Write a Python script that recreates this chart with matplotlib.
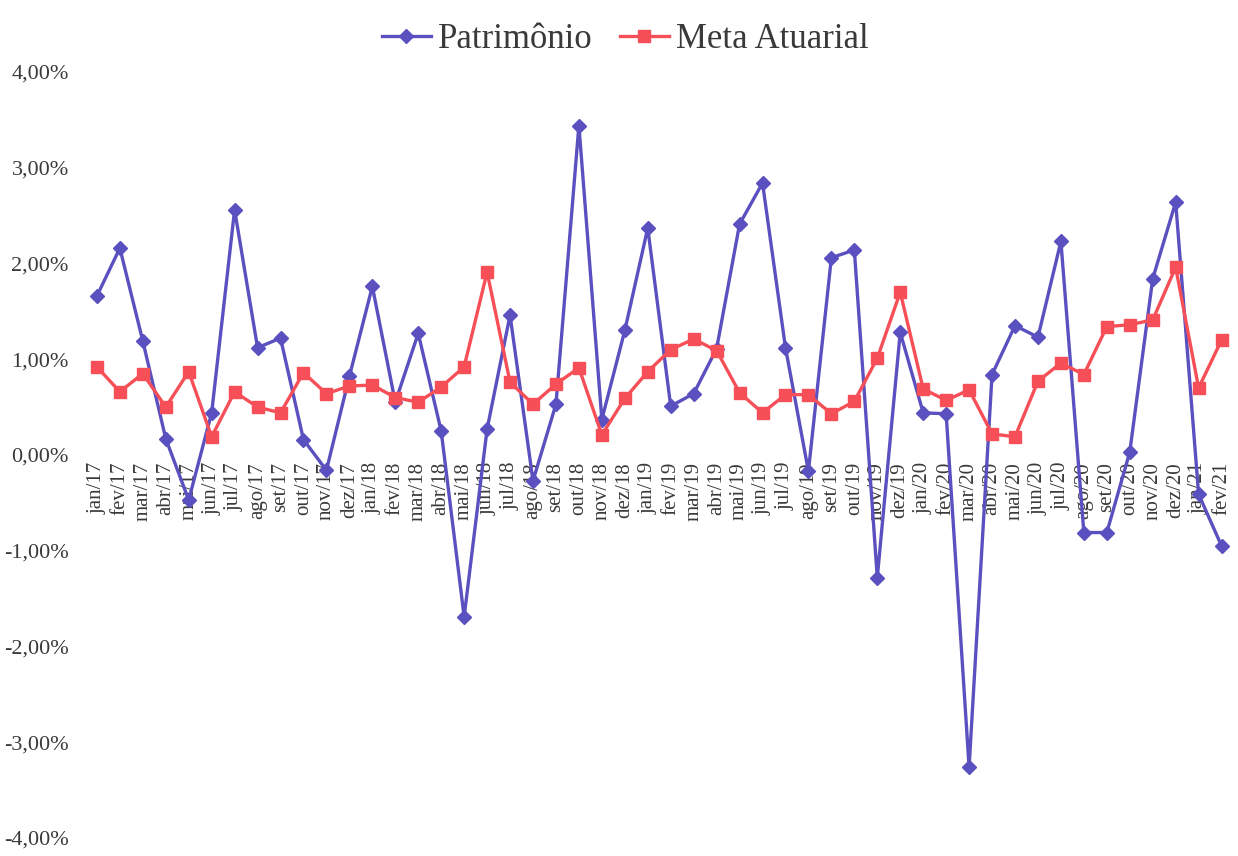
import matplotlib
matplotlib.use("Agg")
import matplotlib.pyplot as plt
from matplotlib.ticker import FuncFormatter

months = ["jan/17","fev/17","mar/17","abr/17","mai/17","jun/17","jul/17","ago/17","set/17","out/17","nov/17","dez/17",
          "jan/18","fev/18","mar/18","abr/18","mai/18","jun/18","jul/18","ago/18","set/18","out/18","nov/18","dez/18",
          "jan/19","fev/19","mar/19","abr/19","mai/19","jun/19","jul/19","ago/19","set/19","out/19","nov/19","dez/19",
          "jan/20","fev/20","mar/20","abr/20","mai/20","jun/20","jul/20","ago/20","set/20","out/20","nov/20","dez/20",
          "jan/21","fev/21"]

patrimonio = [1.66, 2.16, 1.19, 0.17, -0.47, 0.44, 2.56, 1.12, 1.22, 0.16, -0.16, 0.82,
              1.76, 0.55, 1.27, 0.25, -1.69, 0.27, 1.46, -0.27, 0.53, 3.44, 0.37, 1.30,
              2.37, 0.51, 0.64, 1.11, 2.41, 2.84, 1.12, -0.17, 2.06, 2.14, -1.28, 1.28,
              0.44, 0.43, -3.26, 0.84, 1.35, 1.23, 2.23, -0.81, -0.81, 0.03, 1.84, 2.64,
              -0.41, -0.95]

meta = [0.92, 0.66, 0.85, 0.50, 0.87, 0.19, 0.66, 0.50, 0.44, 0.86, 0.64, 0.72,
        0.73, 0.60, 0.55, 0.71, 0.92, 1.91, 0.76, 0.53, 0.74, 0.91, 0.21, 0.59,
        0.87, 1.10, 1.21, 1.09, 0.65, 0.44, 0.63, 0.63, 0.43, 0.56, 1.01, 1.70,
        0.69, 0.57, 0.68, 0.22, 0.19, 0.77, 0.96, 0.84, 1.34, 1.36, 1.41, 1.96,
        0.70, 1.20]

yticks = [-4, -3, -2, -1, 0, 1, 2, 3, 4]

plt.rcParams['font.family'] = ['Liberation Serif', 'DejaVu Serif']

fig = plt.figure(figsize=(12.38, 8.56), dpi=100)
ax = fig.add_axes([0.069, 0.021, 0.927, 0.895])
for s in ax.spines.values():
    s.set_visible(False)
ax.spines['bottom'].set_position(('data', 0))

x = list(range(len(months)))
blue = '#5b50bf'
red = '#f64f57'
ax.plot(x, patrimonio, color=blue, lw=2.4, marker='D', markersize=7, label='Patrimônio', zorder=3)
ax.plot(x, meta, color=red, lw=2.4, marker='s', markersize=9, label='Meta Atuarial', zorder=4)

ax.set_xlim(-0.5, len(months) - 0.5)
ax.set_ylim(-4, 4)
ax.set_yticks(yticks)
ax.yaxis.set_major_formatter(FuncFormatter(lambda v, p: f"{v:.2f}%".replace('.', ',')))
ax.tick_params(axis='y', length=0, labelsize=16, colors='#3a3a3a', pad=12)

ax.set_xticks(x)
ax.set_xticklabels(months, rotation=90, fontsize=15, color='#3a3a3a')
ax.tick_params(axis='x', length=0, pad=5)

leg = fig.legend(loc='upper center', bbox_to_anchor=(0.505, 1.01), ncol=2, frameon=False,
                 fontsize=25, handlelength=1.4, columnspacing=0.8, handletextpad=0.2)
for t in leg.get_texts():
    t.set_color('#3a3a3a')

fig.savefig('out.png', dpi=100, facecolor='white')
